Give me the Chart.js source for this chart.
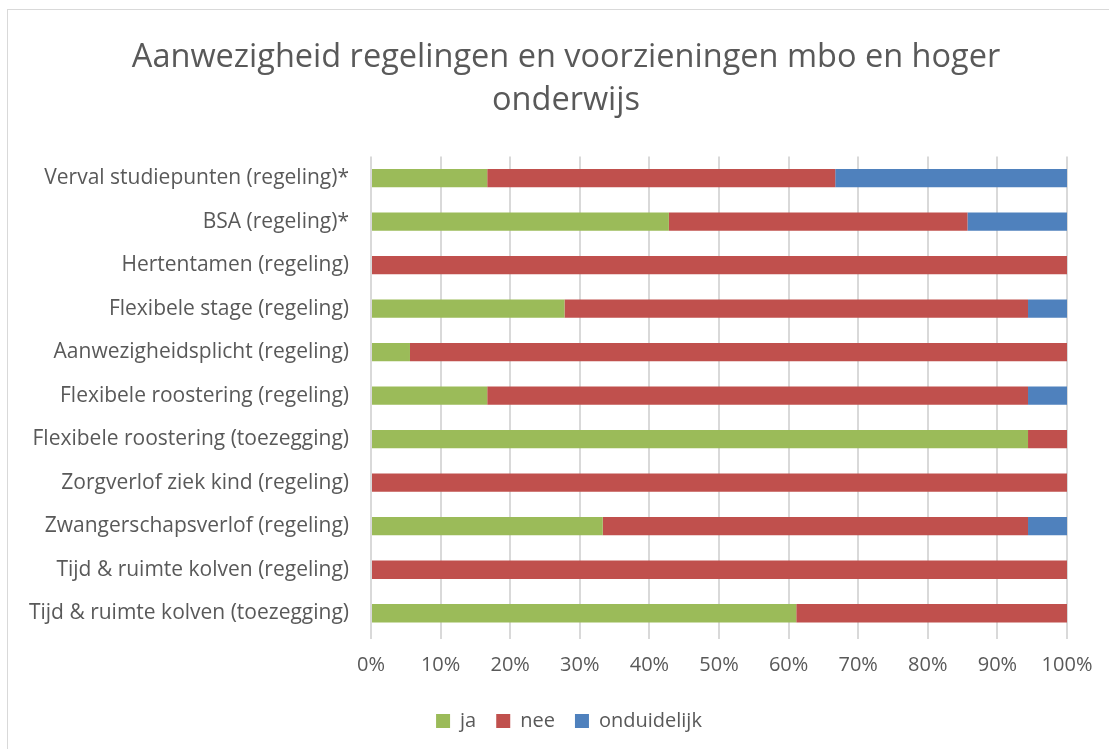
<!DOCTYPE html>
<html>
<head>
<meta charset="utf-8">
<script src="https://cdn.jsdelivr.net/npm/chart.js@4"></script>
<style>
  html, body { margin: 0; padding: 0; background: #ffffff; }
  #wrap { width: 1109px; height: 749px; position: relative; }
</style>
</head>
<body>
<div id="wrap"><canvas id="myChart" width="1109" height="749"></canvas></div>
<script>
// categories, top to bottom
const categories = [
    "Verval studiepunten (regeling)*",
    "BSA (regeling)*",
    "Hertentamen (regeling)",
    "Flexibele stage (regeling)",
    "Aanwezigheidsplicht (regeling)",
    "Flexibele roostering (regeling)",
    "Flexibele roostering (toezegging)",
    "Zorgverlof ziek kind (regeling)",
    "Zwangerschapsverlof (regeling)",
    "Tijd & ruimte kolven (regeling)",
    "Tijd & ruimte kolven (toezegging)"
];

// percentages per category
const jaValues = [16.7, 42.8, 0, 27.8, 5.6, 16.7, 94.4, 0, 33.3, 0, 61.1];
const neeValues = [50.0, 42.9, 100, 66.6, 94.4, 77.7, 5.6, 100, 61.1, 100, 38.9];
const onduidelijkValues = [33.3, 14.3, 0, 5.6, 0, 5.6, 0, 0, 5.6, 0, 0];

const xTicks = [0, 10, 20, 30, 40, 50, 60, 70, 80, 90, 100];

const textColor = "#595959";
const fontFamily = "'Open Sans', Lato, sans-serif";

// outer frame like the office chart area
const framePlugin = {
    id: "frame",
    beforeDraw(c) {
        const ctx = c.ctx;
        ctx.save();
        ctx.fillStyle = "#ffffff";
        ctx.fillRect(0, 0, c.width, c.height);
        ctx.strokeStyle = "#d9d9d9";
        ctx.lineWidth = 1;
        ctx.strokeRect(7.5, 9.5, 1120, 760);
        ctx.restore();
    }
};

// title and legend are centred a bit further right in the original
const shiftPlugin = {
    id: "shift",
    afterLayout(c) {
        const move = (box, centre) => {
            if (!box) return;
            const dx = centre - (box.left + box.right) / 2;
            box.left += dx;
            box.right += dx;
        };
        move(c.titleBlock, 566);
        move(c.legend, 569);
    }
};

const ctx = document.getElementById("myChart").getContext("2d");

new Chart(ctx, {
    type: "bar",
    data: {
        labels: categories,
        datasets: [
            { label: "ja", data: jaValues, backgroundColor: "#9BBB59" },
            { label: "nee", data: neeValues, backgroundColor: "#C0504D" },
            { label: "onduidelijk", data: onduidelijkValues, backgroundColor: "#4F81BD" }
        ]
    },
    options: {
        indexAxis: "y",
        responsive: false,
        animation: false,
        layout: {
            padding: { left: 8, right: 42, top: 14, bottom: 8 }
        },
        datasets: {
            bar: { barPercentage: 0.42, categoryPercentage: 1.0, borderWidth: 0 }
        },
        scales: {
            x: {
                stacked: true,
                min: 0,
                max: 100,
                afterBuildTicks: s => { s.ticks = xTicks.map(v => ({ value: v })); },
                ticks: {
                    color: textColor,
                    font: { family: fontFamily, size: 20 },
                    padding: 14,
                    callback: v => v + "%"
                },
                grid: { color: "#d9d9d9", lineWidth: 2, tickLength: 4 },
                border: { display: false }
            },
            y: {
                stacked: true,
                afterFit: s => { s.width = 363; },
                ticks: {
                    color: textColor,
                    font: { family: fontFamily, size: 21 },
                    padding: 22
                },
                grid: { display: false, drawTicks: false },
                border: { display: false }
            }
        },
        plugins: {
            title: {
                display: true,
                text: ["Aanwezigheid regelingen en voorzieningen mbo en hoger", "onderwijs"],
                color: textColor,
                font: { family: fontFamily, size: 32.5, weight: "normal", lineHeight: 1.33 },
                padding: { top: 22, bottom: 34 }
            },
            legend: {
                position: "bottom",
                labels: {
                    color: textColor,
                    font: { family: fontFamily, size: 20 },
                    boxWidth: 14,
                    boxHeight: 14,
                    padding: 20
                }
            },
            tooltip: { enabled: false }
        }
    },
    plugins: [framePlugin, shiftPlugin]
});
</script>
</body>
</html>
